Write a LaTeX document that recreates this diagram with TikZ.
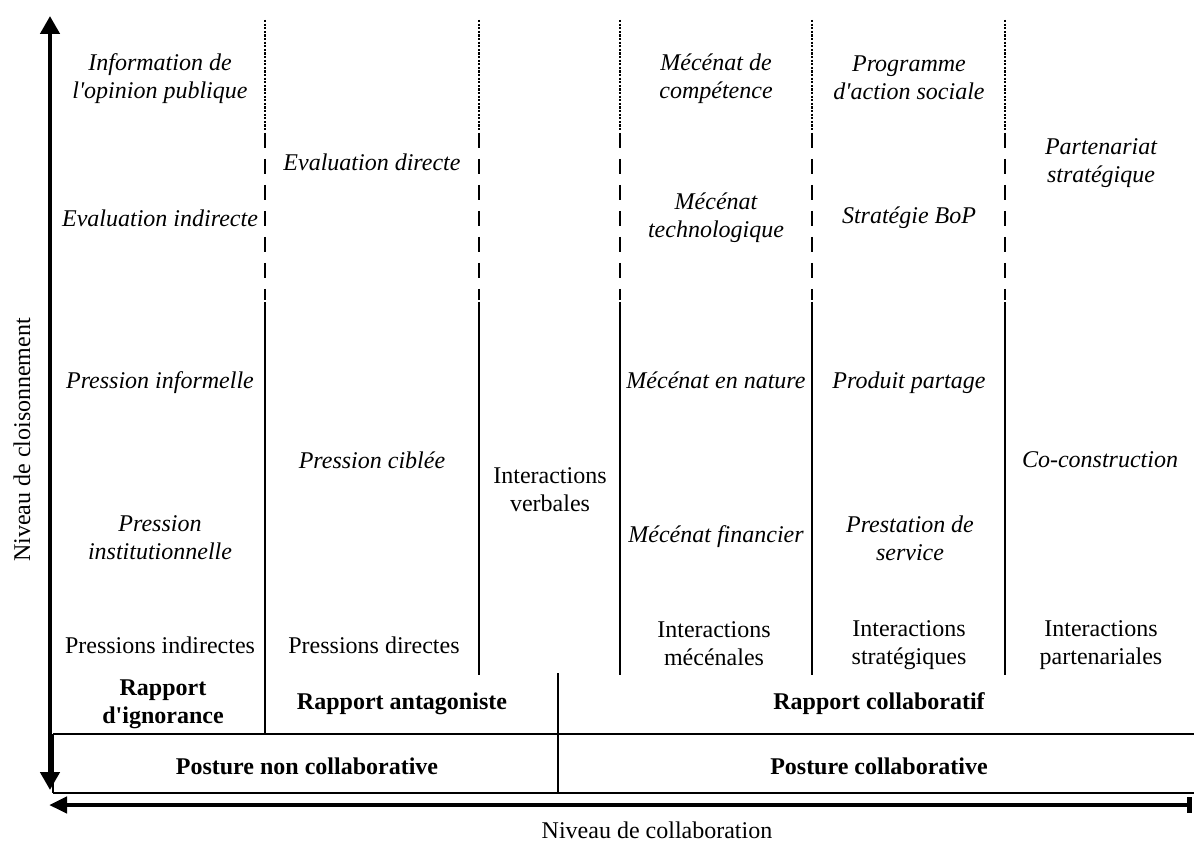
\documentclass[tikz,border=0pt]{standalone}
\usepackage{fontspec}
\setmainfont{Liberation Serif}
\usetikzlibrary{arrows.meta}

\begin{document}
\begin{tikzpicture}[x=0.5pt, y=-0.5pt,
    cell/.style={font=\fontsize{12}{14}\selectfont\itshape, align=center},
    cellup/.style={font=\fontsize{12}{14}\selectfont, align=center},
    cellbf/.style={font=\fontsize{12}{14}\selectfont\bfseries, align=center},
    sepline/.style={line width=1pt},
    dotsep/.style={sepline, dash pattern=on 1.1pt off 0.7pt},
    dashsep/.style={sepline, dash pattern=on 7.5pt off 5.5pt},
    thinline/.style={line width=0.8pt},
    axis/.style={line width=2.3pt}]
    \useasboundingbox (0,0) rectangle (1194,845);
    % axes
    \coordinate (ytop) at (50,16);
    \coordinate (ybot) at (50,790);
    \coordinate (xleft) at (49,805);
    \coordinate (xright) at (1192,805);
    \draw[axis, {Triangle[length=9pt,width=9.5pt]}-{Triangle[length=9pt,width=9.5pt]}] (ybot) -- (ytop);
    \draw[axis, {Bar[width=8pt]}-{Triangle[length=9pt,width=8pt]}] (xright) -- (xleft);
    % column separators
    \foreach \x in {265,479,620,812,1005} {
        \draw[dotsep] (\x,20) -- (\x,130);
        \draw[dashsep] (\x,133) -- (\x,300);
    }
    \draw[sepline] (265,302) -- (265,735);
    \foreach \x in {479,620,812,1005}
        \draw[sepline] (\x,302) -- (\x,675);
    % bottom boxes
    \draw[thinline] (53,734) -- (1194,734);
    \draw[thinline] (53,793) -- (1194,793);
    \draw[thinline] (53,734) -- (53,793);
    \draw[thinline] (558,673) -- (558,793);
    % column 1
    \node[cell] (info) at (160,79) {Information de\\l\textquotesingle opinion publique};
    \node[cell] (evalind) at (160,218) {Evaluation indirecte};
    \node[cell] (presinf) at (160,383) {Pression informelle};
    \node[cell] (presinst) at (160,538) {Pression\\institutionnelle};
    \node[cellup] (presind) at (160,645) {Pressions indirectes};
    % column 2
    \node[cell] (evaldir) at (372,162) {Evaluation directe};
    \node[cell] (prescib) at (372,460) {Pression ciblée};
    \node[cellup] (presdir) at (374,645) {Pressions directes};
    % column 3
    \node[cellup] (interverb) at (550,490) {Interactions\\verbales};
    % column 4
    \node[cell] (mecomp) at (716,79) {Mécénat de\\compétence};
    \node[cell] (mectech) at (716,218) {Mécénat\\technologique};
    \node[cell] (mecnat) at (716,380) {Mécénat en nature};
    \node[cell] (mecfin) at (716,537) {Mécénat financier};
    \node[cellup] (intermec) at (714,644) {Interactions\\mécénales};
    % column 5
    \node[cell] (progsoc) at (909,78) {Programme\\d\textquotesingle action sociale};
    \node[cell] (bop) at (909,218) {Stratégie BoP};
    \node[cell] (prodpart) at (909,383) {Produit partage};
    \node[cell] (prestserv) at (910,538) {Prestation de\\service};
    \node[cellup] (interstrat) at (909,645) {Interactions\\stratégiques};
    % column 6
    \node[cell] (partstrat) at (1101,163) {Partenariat\\stratégique};
    \node[cell] (cocons) at (1100,460) {Co-construction};
    \node[cellup] (interpart) at (1101,645) {Interactions\\partenariales};
    % rapports and postures
    \node[cellbf] (rapign) at (163,704) {Rapport\\d\textquotesingle ignorance};
    \node[cellbf] (rapant) at (402,704) {Rapport antagoniste};
    \node[cellbf] (rapcol) at (879,704) {Rapport collaboratif};
    \node[cellbf] (postnon) at (307,766) {Posture non collaborative};
    \node[cellbf] (postcol) at (879,766) {Posture collaborative};
    % axis labels
    \node[cellup] (lblx) at (657,830) {Niveau de collaboration};
    \node[cellup, rotate=90] (lbly) at (22,440) {Niveau de cloisonnement};
\end{tikzpicture}
\end{document}
